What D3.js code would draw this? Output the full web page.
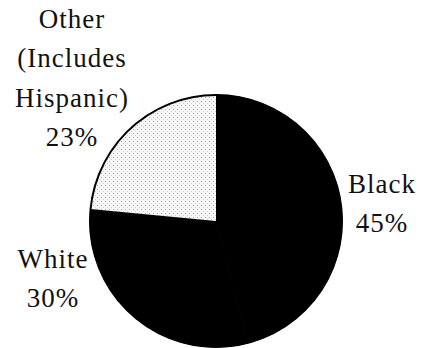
<!DOCTYPE html>
<html>
<head>
<meta charset="utf-8">
<script src="https://cdn.jsdelivr.net/npm/d3@7"></script>
<style>
  html, body { margin: 0; padding: 0; background: #fff; }
  svg { display: block; }
  text { font-family: "Liberation Serif", "DejaVu Serif", serif; fill: #111; }
</style>
</head>
<body>
<svg id="chart" width="423" height="348"></svg>
<script>
// Population share by race (percent)
const categories = ["Black", "White", "Other"];
const values = [45, 30, 23];
const labelLines = [
  ["Black", "45%"],
  ["White", "30%"],
  ["Other", "(Includes", "Hispanic)", "23%"]
];

const width = 423, height = 348;
const cx = 216, cy = 221, radius = 126;

const svg = d3.select("#chart");

// Stippled fill for the "Other" slice
const defs = svg.append("defs");
const pat = defs.append("pattern")
  .attr("id", "stipple")
  .attr("patternUnits", "userSpaceOnUse")
  .attr("width", 4).attr("height", 4);
pat.append("rect").attr("width", 4).attr("height", 4).attr("fill", "#f7f7f7");
pat.append("rect").attr("x", 1).attr("y", 0).attr("width", 1).attr("height", 1).attr("fill", "#a8a8a8");
pat.append("rect").attr("x", 3).attr("y", 2).attr("width", 1).attr("height", 1).attr("fill", "#d0d0d0");

const fills = d3.scaleOrdinal()
  .domain(categories)
  .range(["#000", "#000", "url(#stipple)"]);

const pie = d3.pie().sort(null).value(d => d);
const arcs = pie(values);
const arc = d3.arc().innerRadius(0).outerRadius(radius);

const g = svg.append("g").attr("transform", `translate(${cx},${cy})`);

g.selectAll("path.slice")
  .data(arcs)
  .join("path")
  .attr("class", "slice")
  .attr("d", arc)
  .attr("fill", (d, i) => fills(categories[i]))
  .attr("stroke", (d, i) => i === 2 ? "none" : "#000")
  .attr("stroke-width", 1);

// Outline of the whole pie
g.append("circle")
  .attr("r", radius)
  .attr("fill", "none")
  .attr("stroke", "#000")
  .attr("stroke-width", 2);

// Labels: anchor x and first baseline for each category
const labelPos = [
  { x: 382, y: 193 },
  { x: 53, y: 268 },
  { x: 72, y: 28 }
];
const lineH = 39.3;

labelLines.forEach((lines, i) => {
  const t = svg.append("text")
    .attr("text-anchor", "middle")
    .attr("font-size", 27)
    .attr("letter-spacing", 1);
  lines.forEach((s, j) => {
    t.append("tspan")
      .attr("x", labelPos[i].x)
      .attr("y", labelPos[i].y + j * lineH)
      .text(s);
  });
});
</script>
</body>
</html>
